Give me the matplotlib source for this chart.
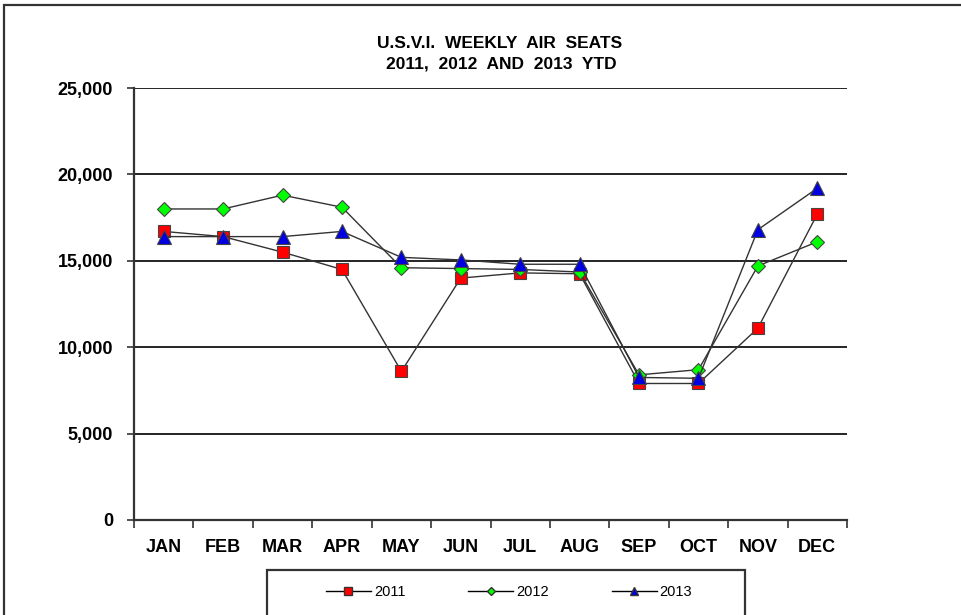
import matplotlib.pyplot as plt
from matplotlib.patches import Rectangle
from matplotlib.lines import Line2D
from matplotlib.ticker import FuncFormatter

plt.rcParams['font.family'] = ['Liberation Sans', 'DejaVu Sans']

months = ["JAN", "FEB", "MAR", "APR", "MAY", "JUN", "JUL", "AUG", "SEP", "OCT", "NOV", "DEC"]
seats_2011 = [16700, 16400, 15500, 14500, 8600, 14000, 14300, 14250, 7900, 7900, 11100, 17700]
seats_2012 = [18000, 18000, 18800, 18100, 14600, 14550, 14500, 14350, 8400, 8700, 14700, 16100]
seats_2013 = [16400, 16400, 16400, 16700, 15200, 15050, 14800, 14800, 8250, 8200, 16800, 19200]
y_ticks = [0, 5000, 10000, 15000, 20000, 25000]

fig = plt.figure(figsize=(9.62, 6.15), dpi=100)
ax = fig.add_axes([134 / 962, 95 / 615, 713 / 962, 432 / 615])

x = list(range(len(months)))
ax.plot(x, seats_2011, color="#333333", lw=1, marker="s", ms=9,
        mfc="#ff0000", mec="#444444", mew=0.8, zorder=3)
ax.plot(x, seats_2012, color="#333333", lw=1, marker="D", ms=7.5,
        mfc="#00ff00", mec="#444444", mew=0.8, zorder=4)
ax.plot(x, seats_2013, color="#333333", lw=1, marker="^", ms=9.5,
        mfc="#0000e0", mec="#444444", mew=0.8, zorder=5)

ax.set_xlim(-0.5, 11.5)
ax.set_ylim(0, 25000)
ax.set_yticks(y_ticks)
ax.yaxis.set_major_formatter(FuncFormatter(lambda v, p: f"{int(v):,}"))
for yv in y_ticks[1:]:
    ax.axhline(yv, color="black", lw=1.2, zorder=1)

ax.set_xticks(x)
ax.set_xticklabels(months)
ax.set_xticks([i - 0.5 for i in range(13)], minor=True)
ax.tick_params(axis="x", which="major", length=0, pad=14)
ax.tick_params(axis="x", which="minor", length=6, width=1.2, direction="out", color="#333333")
ax.tick_params(axis="y", length=5, width=1.2, direction="out", color="#333333", pad=10)
for lab in ax.get_xticklabels() + ax.get_yticklabels():
    lab.set_fontweight("bold")
    lab.set_fontsize(13)

for s in ["top", "right"]:
    ax.spines[s].set_visible(False)
for s in ["left", "bottom"]:
    ax.spines[s].set_linewidth(1.6)
    ax.spines[s].set_color("#333333")

fig.text(500 / 962, 1 - 43 / 615, "U.S.V.I.  WEEKLY  AIR  SEATS", ha="center", va="center",
         fontsize=12.5, fontweight="bold")
fig.text(501 / 962, 1 - 64 / 615, "2011,  2012  AND  2013  YTD", ha="center", va="center",
         fontsize=12.5, fontweight="bold")

# outer frame and legend box
fig.patches.append(Rectangle((4 / 962, -0.1), 1.1, 1 - 5 / 615 + 0.1, transform=fig.transFigure,
                             fill=False, ec="#333333", lw=1.6))
fig.patches.append(Rectangle((267 / 962, -0.1), (745 - 267) / 962, 1 - 570 / 615 + 0.1,
                             transform=fig.transFigure, fill=False, ec="#333333", lw=1.6))

handles = [
    Line2D([], [], color="black", lw=1, marker="s", ms=6, mfc="#ff0000", mec="#333333"),
    Line2D([], [], color="black", lw=1, marker="D", ms=4.5, mfc="#00ff00", mec="#333333"),
    Line2D([], [], color="black", lw=1, marker="^", ms=6, mfc="#0000e0", mec="#333333"),
]
fig.legend(handles, ["2011", "2012", "2013"], loc="center", ncol=3,
           bbox_to_anchor=(509 / 962, 1 - 592 / 615), frameon=False,
           fontsize=10.5, handlelength=3.1, columnspacing=4.3, handletextpad=0.2)

fig.savefig("out.png", dpi=100)
